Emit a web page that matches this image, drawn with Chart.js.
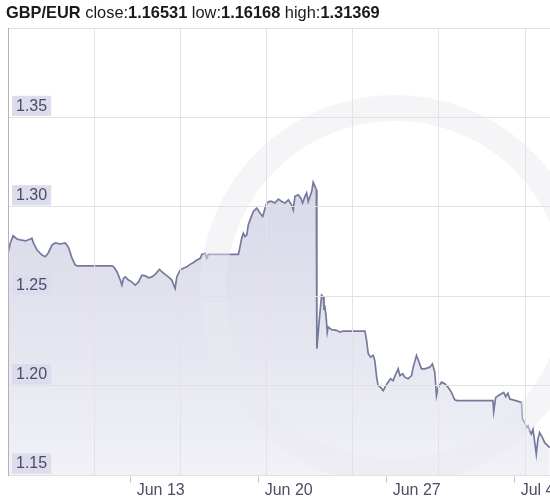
<!DOCTYPE html>
<html>
<head>
<meta charset="utf-8">
<script src="https://cdn.jsdelivr.net/npm/chart.js@4.4.1/dist/chart.umd.min.js"></script>
<style>
  html, body { margin: 0; padding: 0; background: #fff; }
  #wrap { position: relative; width: 550px; height: 499px; overflow: hidden; }
  #title {
    position: absolute; left: 6px; top: 3px;
    font: 16.4px "Liberation Sans", Arial, sans-serif;
    color: #1a1a1a; white-space: nowrap;
  }
  canvas { position: absolute; left: 0; top: 0; }
</style>
</head>
<body>
<div id="wrap">
  <canvas id="rateChart" width="550" height="499"></canvas>
  <div id="title"><b>GBP/EUR</b> close:<b>1.16531</b> low:<b>1.16168</b> high:<b>1.31369</b></div>
</div>

<script>
// ======================
// DATA (day 0 = Jun 6)
// ======================
const days = [
  0.29, 0.42, 0.57, 0.78, 0.97, 1.24, 1.51, 1.60, 1.68, 1.88,
  2.15, 2.33, 2.49, 2.70, 2.88, 3.15, 3.42, 3.59, 3.79, 3.97,
  4.08, 5.97, 6.06, 6.25, 6.43, 6.52, 6.61, 6.70, 6.88, 7.07,
  7.25, 7.43, 7.61, 7.79, 7.97, 8.16, 8.34, 8.57, 8.70, 8.88,
  9.06, 9.25, 9.43, 9.52, 9.70, 9.88, 10.07, 10.25, 10.43, 10.62,
  10.80, 10.89, 11.07, 11.16, 11.25, 12.89, 12.98, 13.07, 13.16, 13.25,
  13.35, 13.43, 13.53, 13.71, 13.89, 14.07, 14.22, 14.35, 14.44, 14.58,
  14.71, 14.89, 15.07, 15.26, 15.44, 15.62, 15.80, 15.89, 15.98, 16.16,
  16.30, 16.40, 16.53, 16.62, 16.71, 16.80, 16.90, 16.98, 17.08, 17.15,
  17.18, 17.31, 17.44, 17.53, 17.57, 17.62, 17.68, 17.75, 17.80, 17.99,
  18.26, 18.44, 18.62, 19.81, 19.90, 19.99, 20.12, 20.26, 20.35, 20.45,
  20.53, 20.67, 20.81, 20.95, 21.08, 21.21, 21.35, 21.50, 21.63, 21.72,
  21.87, 21.99, 22.17, 22.36, 22.45, 22.63, 22.77, 22.90, 23.08, 23.36,
  23.50, 23.63, 23.72, 23.81, 24.00, 24.18, 24.36, 24.54, 24.72, 24.85,
  26.81, 26.85, 26.96, 27.18, 27.40, 27.51, 27.63, 27.73, 27.91, 28.18,
  28.37, 28.42, 28.55, 28.64, 28.73, 28.82, 28.91, 29.00, 29.18, 29.27,
  29.36, 29.51, 29.64, 29.82, 29.91
];

const rates = [
  1.2742, 1.2798, 1.2839, 1.2820, 1.2815, 1.2809, 1.2820, 1.2824, 1.2798, 1.2758,
  1.2730, 1.2721, 1.2742, 1.2787, 1.2798, 1.2792, 1.2798, 1.2775, 1.2713, 1.2674,
  1.2670, 1.2670, 1.2665, 1.2637, 1.2590, 1.2562, 1.2601, 1.2608, 1.2590, 1.2579,
  1.2562, 1.2580, 1.2618, 1.2614, 1.2603, 1.2608, 1.2622, 1.2650, 1.2637, 1.2622,
  1.2608, 1.2590, 1.2543, 1.2608, 1.2646, 1.2656, 1.2665, 1.2678, 1.2689, 1.2702,
  1.2712, 1.2734, 1.2740, 1.2712, 1.2734, 1.2734, 1.2777, 1.2824, 1.2852, 1.2833,
  1.2843, 1.2899, 1.2927, 1.2974, 1.2993, 1.2965, 1.2946, 1.2993, 1.3021, 1.3030,
  1.3030, 1.3021, 1.3043, 1.3030, 1.3021, 1.3039, 1.3011, 1.2983, 1.3058, 1.3067,
  1.3049, 1.3021, 1.3058, 1.3077, 1.3030, 1.3058, 1.3086, 1.3137, 1.3114, 1.3096,
  1.2206, 1.2365, 1.2506, 1.2496, 1.2433, 1.2440, 1.2393, 1.2299, 1.2328, 1.2313,
  1.2309, 1.2299, 1.2305, 1.2305, 1.2253, 1.2178, 1.2159, 1.2169, 1.2140, 1.2047,
  1.2000, 1.1990, 1.1972, 1.2000, 1.2019, 1.2038, 1.2028, 1.2066, 1.2094, 1.2056,
  1.2066, 1.2047, 1.2038, 1.2056, 1.2103, 1.2169, 1.2131, 1.2094, 1.2094, 1.2103,
  1.2122, 1.2075, 1.1944, 1.1990, 1.2019, 1.2010, 1.1990, 1.1962, 1.1920, 1.1916,
  1.1916, 1.1854, 1.1934, 1.1949, 1.1962, 1.1938, 1.1957, 1.1925, 1.1920, 1.1912,
  1.1906, 1.1813, 1.1794, 1.1766, 1.1775, 1.1747, 1.1729, 1.1757, 1.1617, 1.1701,
  1.1738, 1.1710, 1.1681, 1.1663, 1.1653
];

const tickDays = [7, 14, 21, 28];
const tickLabels = ['Jun 13', 'Jun 20', 'Jun 27', 'Jul 4'];

const yMin = 1.15;
const yMax = 1.40;
const yStep = 0.05;

const FONT = '"Liberation Sans", Arial, sans-serif';

// ======================
// WATERMARK (faint xe ring)
// ======================
const xeMark = {
  id: 'xeMark',
  afterDatasetsDraw(chart) {
    const { ctx, chartArea } = chart;
    ctx.save();
    ctx.beginPath();
    ctx.rect(chartArea.left, chartArea.top, chartArea.width, chartArea.height);
    ctx.clip();
    ctx.strokeStyle = 'rgba(232,232,240,0.45)';
    ctx.lineWidth = 26;
    ctx.beginPath();
    ctx.arc(395, 290, 182, 0, Math.PI * 2);
    ctx.stroke();
    ctx.restore();
  }
};

// ======================
// CHART
// ======================
const canvas = document.getElementById('rateChart');

new Chart(canvas, {
  type: 'line',

  data: {
    datasets: [{
      data: days.map((d, i) => ({ x: d, y: rates[i] })),
      borderColor: '#757a9d',
      borderWidth: 1.7,
      pointRadius: 0,
      tension: 0,
      fill: 'start',
      backgroundColor: (ctx) => {
        const area = ctx.chart.chartArea;
        if (!area) return 'rgba(215,216,232,0.8)';
        const g = ctx.chart.ctx.createLinearGradient(0, area.top, 0, area.bottom);
        g.addColorStop(0, '#cacbdf');
        g.addColorStop(1, '#f1f1f7');
        return g;
      }
    }]
  },

  options: {
    responsive: false,
    animation: false,
    layout: {
      // the mirrored y axis still reserves its padding, so pull it back
      padding: { top: 28, left: -8, right: 0, bottom: 0 }
    },

    plugins: {
      legend: { display: false },
      tooltip: { enabled: false }
    },

    scales: {
      x: {
        type: 'linear',
        min: 0.29,
        max: 29.93,
        afterBuildTicks: (scale) => {
          scale.ticks = tickDays.map(v => ({ value: v }));
        },
        grid: {
          drawOnChartArea: false,
          drawTicks: true,
          tickLength: 8,
          color: '#cfcfd6'
        },
        border: { display: true, color: '#c4c4cc', z: 1 },
        ticks: {
          align: 'start',
          labelOffset: 6,
          padding: 0,
          maxRotation: 0,
          autoSkip: false,
          color: '#4a4d66',
          font: { family: FONT, size: 16, lineHeight: 1 },
          callback: (v) => {
            const i = tickDays.indexOf(v);
            return i >= 0 ? tickLabels[i] : '';
          }
        }
      },

      // pixel-spaced vertical grid, like the original
      xg: {
        type: 'linear',
        position: 'top',
        min: 0,
        max: 6.29,
        afterBuildTicks: (scale) => {
          scale.ticks = [0, 1, 2, 3, 4, 5, 6].map(v => ({ value: v }));
        },
        grid: { color: '#e2e2e7', drawTicks: false, z: 1 },
        border: { display: false },
        ticks: { display: false }
      },

      y: {
        min: yMin,
        max: yMax,
        grid: { color: '#e0e0e5', drawTicks: false, z: 1 },
        border: { display: true, color: '#b2b2ba', z: 1 },
        ticks: {
          z: 2,
          stepSize: yStep,
          mirror: true,
          padding: 8,
          labelOffset: -11,
          color: '#4a4d66',
          font: { family: FONT, size: 16 },
          showLabelBackdrop: true,
          backdropPadding: { left: 4, right: 4, top: 1, bottom: 0 },
          backdropColor: (ctx) =>
            ctx.tick && ctx.tick.value > yMax - 0.001 ? 'rgba(0,0,0,0)' : '#dcdcec',
          callback: (v) => (v > yMax - 0.001 ? '' : v.toFixed(2))
        }
      }
    }
  },

  plugins: [xeMark]
});
</script>
</body>
</html>
